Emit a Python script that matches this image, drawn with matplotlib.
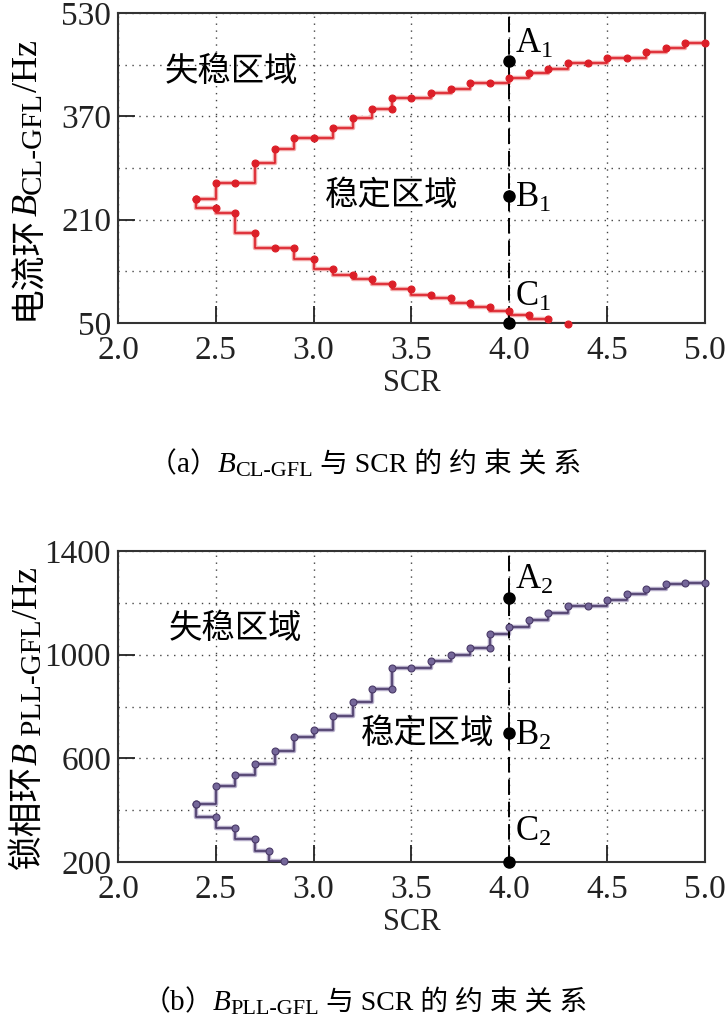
import numpy as np
import matplotlib
matplotlib.use("Agg")
import matplotlib.pyplot as plt
from matplotlib.transforms import IdentityTransform

SERIF = 'Liberation Serif'
CJK = 'Noto Sans CJK SC'
MIX = [SERIF, CJK]
plt.rcParams['font.family'] = MIX
plt.rcParams['mathtext.fontset'] = 'custom'
plt.rcParams['mathtext.rm'] = SERIF
plt.rcParams['mathtext.it'] = SERIF + ':italic'

# ---- data ----
scr_ticks = [2.0, 2.5, 3.0, 3.5, 4.0, 4.5, 5.0]
scr_tick_labels = ['2.0', '2.5', '3.0', '3.5', '4.0', '4.5', '5.0']

# (a) current loop bandwidth boundary
a_up_scr = [2.4, 2.5, 2.6, 2.7, 2.8, 2.9, 3.0, 3.1, 3.2, 3.3, 3.4, 3.4, 3.5, 3.6,
            3.7, 3.8, 3.9, 4.0, 4.1, 4.2, 4.3, 4.4, 4.5, 4.6, 4.7, 4.8, 4.9, 5.0]
a_up_bw = [242, 266, 266, 297, 320, 336, 336, 352, 367, 382, 382, 398, 398, 406,
           413, 421, 421, 429, 437, 444, 452, 452, 460, 460, 469, 476, 484, 484]
a_lo_scr = [2.4, 2.5, 2.6, 2.7, 2.8, 2.9, 3.0, 3.1, 3.2, 3.3, 3.4, 3.5, 3.6, 3.7,
            3.8, 3.9, 4.0, 4.1, 4.2, 4.3]
a_lo_bw = [242, 228, 220, 189, 166, 166, 149, 133, 125, 118, 110, 102, 94, 88,
           81, 75, 68, 63, 56, 49]
a_yticks = [50, 210, 370, 530]
a_ytick_labels = ['50', '210', '370', '530']
a_ygrid = [130, 290, 450]
a_pts = [456, 247, 50]
a_pt_labels = [r'$\mathrm{A}_1$', r'$\mathrm{B}_1$', r'$\mathrm{C}_1$']
a_pt_label_y = [482, 243, 90]

# (b) PLL bandwidth boundary
b_up_scr = [2.4, 2.5, 2.6, 2.7, 2.8, 2.9, 3.0, 3.1, 3.2, 3.3, 3.4, 3.4, 3.5, 3.6, 3.7,
            3.8, 3.9, 3.9, 4.0, 4.1, 4.2, 4.3, 4.4, 4.5, 4.6, 4.7, 4.8, 4.9, 5.0]
b_up_bw = [422, 493, 535, 578, 630, 684, 711, 763, 816, 867, 867, 948, 948, 975, 1000,
           1027, 1027, 1081, 1106, 1133, 1161, 1187, 1187, 1210, 1233, 1255, 1272, 1275, 1275]
b_lo_scr = [2.4, 2.5, 2.6, 2.7, 2.77, 2.85]
b_lo_bw = [422, 373, 332, 287, 241, 203]
b_yticks = [200, 600, 1000, 1400]
b_ytick_labels = ['200', '600', '1000', '1400']
b_ygrid = [400, 800, 1200]
b_pts = [1218, 697, 200]
b_pt_labels = [r'$\mathrm{A}_2$', r'$\mathrm{B}_2$', r'$\mathrm{C}_2$']
b_pt_label_y = [1287, 686, 316]

op_scr = 4.0


def rich(fig, x, y, pieces, rotation=0):
    # pieces: (text, family, size, style, shift_px); x, y in pixels from top-left,
    # centred along the writing direction, positive shift = subscript
    r = fig.canvas.get_renderer()
    H = fig.bbox.height
    widths = []
    for s, fam, size, style, shift in pieces:
        t = fig.text(0, 0, s, family=fam, fontsize=size, style=style)
        widths.append(t.get_window_extent(r).width)
        t.remove()
    pos = -sum(widths) / 2
    for (s, fam, size, style, shift), w in zip(pieces, widths):
        if rotation == 0:
            px, py = x + pos, H - y - shift
        else:
            px, py = x + shift, H - y + pos
        fig.text(px, py, s, family=fam, fontsize=size, style=style, rotation=rotation,
                 rotation_mode='anchor', ha='left', va='baseline',
                 transform=IdentityTransform())
        pos += w


def style(ax, ylim, yticks, ylabels, ygrid):
    ax.set_xlim(2, 5)
    ax.set_ylim(*ylim)
    ax.set_xticks(scr_ticks)
    ax.set_xticklabels(scr_tick_labels)
    ax.set_yticks(yticks)
    ax.set_yticklabels(ylabels)
    ax.set_yticks(ygrid, minor=True)
    ax.tick_params(which='major', direction='in', length=12, width=1.3,
                   labelsize=24, colors='#222222')
    ax.tick_params(axis='x', pad=9)
    ax.tick_params(axis='y', pad=5)
    ax.tick_params(which='minor', length=0)
    ax.grid(axis='x', which='major', ls=(0, (1, 4)), color='#444444', lw=1)
    ax.grid(axis='y', which='both', ls=(0, (1, 4)), color='#444444', lw=1)
    for s in ax.spines.values():
        s.set_linewidth(1.5)
        s.set_color('#333333')
    ax.set_xlabel('SCR', fontsize=22, labelpad=2, color='#222222')


def boundary(ax, x_up, y_up, x_lo, y_lo, col, halo, mface):
    for xs, ys, ds in [(x_up, y_up, 'steps-post'), (x_lo, y_lo, 'steps-pre')]:
        ax.plot(xs, ys, drawstyle=ds, color=halo, lw=3.2, solid_capstyle='butt', zorder=2)
        ax.plot(xs, ys, drawstyle=ds, color=col, lw=1.2, zorder=3)
        ax.plot(xs, ys, 'o', ms=5, mfc=mface, mec=col, mew=0.8, zorder=4, clip_on=False)


def op_points(ax, pts, labels, label_y):
    ax.axvline(op_scr, color='k', lw=1.4, dashes=(8, 3.5), zorder=3)
    ax.plot([op_scr] * len(pts), pts, 'o', color='k', ms=8, zorder=6, clip_on=False)
    for lab, ly in zip(labels, label_y):
        ax.text(op_scr + 0.03, ly, lab, fontsize=25, ha='left', va='center', zorder=6)


fig = plt.figure(figsize=(7.27, 10.21), dpi=100)
ax1 = fig.add_axes([118 / 727, 1 - 323 / 1021, 587 / 727, 310 / 1021])
ax2 = fig.add_axes([118 / 727, 1 - 862 / 1021, 587 / 727, 311 / 1021])

style(ax1, (50, 530), a_yticks, a_ytick_labels, a_ygrid)
boundary(ax1, a_up_scr, a_up_bw, a_lo_scr, a_lo_bw, '#dc1f28', '#f2a6a6', '#dc1f28')
op_points(ax1, a_pts, a_pt_labels, a_pt_label_y)
ax1.text(2.58, 439, '失稳区域', family=CJK, fontsize=24, ha='center', va='center')
ax1.text(3.40, 248, '稳定区域', family=CJK, fontsize=24, ha='center', va='center')

style(ax2, (200, 1400), b_yticks, b_ytick_labels, b_ygrid)
boundary(ax2, b_up_scr, b_up_bw, b_lo_scr, b_lo_bw, '#4a3a68', '#b4abc8', '#75679a')
op_points(ax2, b_pts, b_pt_labels, b_pt_label_y)
ax2.text(2.60, 1101, '失稳区域', family=CJK, fontsize=24, ha='center', va='center')
ax2.text(3.585, 694, '稳定区域', family=CJK, fontsize=24, ha='center', va='center')

# rotated y labels with subscripts
rich(fig, 37, 180, [('电流环', CJK, 25, 'normal', 0), ('B', SERIF, 26, 'italic', 0),
                    ('CL-GFL', SERIF, 21, 'normal', 4), ('/Hz', SERIF, 26, 'normal', 0)],
     rotation=90)
rich(fig, 37, 718, [('锁相环', CJK, 25, 'normal', 0), ('B', SERIF, 26, 'italic', 0),
                    (' PLL-GFL', SERIF, 21, 'normal', 4), ('/Hz', SERIF, 26, 'normal', 0)],
     rotation=90)

# captions
rich(fig, 365, 472, [('（', CJK, 20, 'normal', 0), ('a', SERIF, 21, 'normal', 0),
                     ('）', CJK, 20, 'normal', 0), ('B', SERIF, 21, 'italic', 0),
                     ('CL-GFL', SERIF, 16, 'normal', 4),
                     (' 与 SCR 的 约 束 关 系', MIX, 20, 'normal', 0)])
rich(fig, 365, 1010, [('（', CJK, 20, 'normal', 0), ('b', SERIF, 21, 'normal', 0),
                      ('）', CJK, 20, 'normal', 0), ('B', SERIF, 21, 'italic', 0),
                      ('PLL-GFL', SERIF, 16, 'normal', 4),
                      (' 与 SCR 的 约 束 关 系', MIX, 20, 'normal', 0)])

fig.savefig('out.png', dpi=100)
